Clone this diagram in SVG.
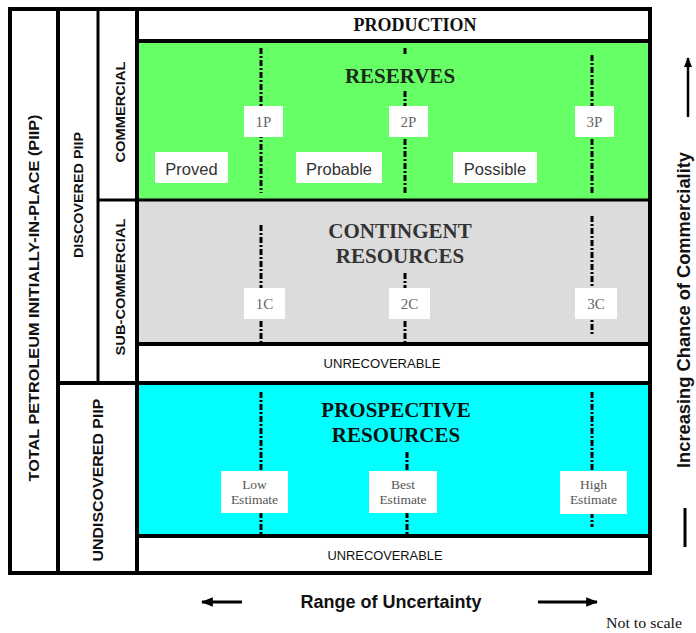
<svg xmlns="http://www.w3.org/2000/svg" width="696" height="633" viewBox="0 0 696 633">
<defs>
<style>
.frame{stroke:#000;stroke-width:4;fill:none}
.thin{stroke:#000;stroke-width:3;fill:none}
.dash{stroke:#000;stroke-width:3;stroke-dasharray:6 2 2 2;fill:none}
.lbl{fill:#fff}
.side{font-family:"Liberation Sans",Arial,sans-serif;font-weight:bold;fill:#111}
.big{font-family:"Liberation Serif","Times New Roman",serif;font-weight:bold;font-size:21px;text-anchor:middle}
.tag{font-family:"Liberation Serif","Times New Roman",serif;font-size:15px;fill:#666;text-anchor:middle}
.est{font-family:"Liberation Serif","Times New Roman",serif;font-size:13.5px;fill:#555;text-anchor:middle}
.cls{font-family:"Liberation Sans",Arial,sans-serif;font-size:16.5px;fill:#333;text-anchor:middle}
.unrec{font-family:"Liberation Sans",Arial,sans-serif;font-size:12.5px;fill:#111;text-anchor:middle}
</style>
<marker id="ah" viewBox="0 0 10 10" refX="9" refY="5" markerWidth="4" markerHeight="4" orient="auto-start-reverse" markerUnits="strokeWidth">
<path d="M0,1 L10,5 L0,9 z" fill="#000"/>
</marker>
</defs>
<rect width="696" height="633" fill="#fff"/>

<g id="production">
<text x="415" y="31" style="font-family:'Liberation Serif','Times New Roman',serif;font-weight:bold;font-size:18px" text-anchor="middle" fill="#111">PRODUCTION</text>
</g>

<g id="reserves">
<rect x="137" y="41" width="513" height="159" fill="#66ff66"/>
<text class="big" x="400" y="83" fill="#1a2a1a">RESERVES</text>
<path class="dash" d="M261,48 V193 M405,48 V56 M405,91 V193 M592,55 V193"/>
<rect class="lbl" x="244" y="106" width="39" height="31"/>
<rect class="lbl" x="389" y="106" width="39" height="31"/>
<rect class="lbl" x="575" y="106" width="39" height="31"/>
<text class="tag" x="263.5" y="127">1P</text>
<text class="tag" x="408.5" y="127">2P</text>
<text class="tag" x="594.5" y="127">3P</text>
<rect class="lbl" x="155" y="152" width="73" height="31"/>
<rect class="lbl" x="296" y="152" width="86" height="31"/>
<rect class="lbl" x="453" y="152" width="84" height="31"/>
<text class="cls" x="191.5" y="175">Proved</text>
<text class="cls" x="339" y="175">Probable</text>
<text class="cls" x="495" y="175">Possible</text>
</g>

<g id="contingent">
<rect x="137" y="200" width="513" height="144" fill="#dcdcdc"/>
<text class="big" x="400" y="238" fill="#333">CONTINGENT</text>
<text class="big" x="400" y="263" fill="#333">RESOURCES</text>
<path class="dash" d="M261,225 V343 M405,273 V343 M592,216 V335"/>
<rect class="lbl" x="244" y="288" width="41" height="31"/>
<rect class="lbl" x="389" y="288" width="41" height="31"/>
<rect class="lbl" x="575" y="288" width="42" height="31"/>
<text class="tag" x="264.5" y="309">1C</text>
<text class="tag" x="409.5" y="309">2C</text>
<text class="tag" x="596" y="309">3C</text>
</g>

<g id="unrecoverable-1">
<text class="unrec" x="382" y="368" textLength="117" lengthAdjust="spacingAndGlyphs">UNRECOVERABLE</text>
</g>

<g id="prospective">
<rect x="137" y="383" width="513" height="153" fill="#00ffff"/>
<text class="big" x="396" y="417" fill="#111">PROSPECTIVE</text>
<text class="big" x="396" y="442" fill="#111">RESOURCES</text>
<path class="dash" d="M261,392 V535 M407,452 V535 M592,392 V527"/>
<rect class="lbl" x="221" y="471" width="67" height="42"/>
<rect class="lbl" x="369" y="471" width="68" height="42"/>
<rect class="lbl" x="560" y="471" width="67" height="43"/>
<text class="est" x="254.5" y="489">Low</text>
<text class="est" x="254.5" y="504">Estimate</text>
<text class="est" x="403" y="489">Best</text>
<text class="est" x="403" y="504">Estimate</text>
<text class="est" x="593.5" y="489">High</text>
<text class="est" x="593.5" y="504">Estimate</text>
</g>

<g id="unrecoverable-2">
<text class="unrec" x="385" y="560" textLength="115" lengthAdjust="spacingAndGlyphs">UNRECOVERABLE</text>
</g>

<g id="side-labels">
<text class="side" transform="translate(39,298) rotate(-90)" text-anchor="middle" font-size="14.5" textLength="367" lengthAdjust="spacingAndGlyphs">TOTAL PETROLEUM INITIALLY-IN-PLACE (PIIP)</text>
<text class="side" transform="translate(83,195) rotate(-90)" text-anchor="middle" font-size="13.5" textLength="126" lengthAdjust="spacingAndGlyphs">DISCOVERED PIIP</text>
<text class="side" transform="translate(125,112) rotate(-90)" text-anchor="middle" font-size="13.5" textLength="101" lengthAdjust="spacingAndGlyphs">COMMERCIAL</text>
<text class="side" transform="translate(125,287) rotate(-90)" text-anchor="middle" font-size="13.5" textLength="137" lengthAdjust="spacingAndGlyphs">SUB-COMMERCIAL</text>
<text class="side" transform="translate(102.5,480) rotate(-90)" text-anchor="middle" font-size="14.5" textLength="163" lengthAdjust="spacingAndGlyphs">UNDISCOVERED PIIP</text>
</g>

<g id="connectors">
<rect class="frame" x="10" y="9" width="640" height="564"/>
<path class="frame" d="M58,9 V573 M137,9 V573 M137,41 H650 M137,344 H650 M58,383 H650 M137,536 H650"/>
<path class="thin" d="M98,9 V383 M98,200 H650"/>
<line x1="688" y1="117" x2="688" y2="58" stroke="#000" stroke-width="2.5" marker-end="url(#ah)"/>
<line x1="685" y1="508" x2="685" y2="547" stroke="#000" stroke-width="3"/>
<line x1="242" y1="602" x2="202" y2="602" stroke="#000" stroke-width="3" marker-end="url(#ah)"/>
<line x1="538" y1="602" x2="597" y2="602" stroke="#000" stroke-width="3" marker-end="url(#ah)"/>
</g>

<g id="axis-labels">
<text transform="translate(690,310) rotate(-90)" text-anchor="middle" style="font-family:'Liberation Sans',Arial,sans-serif;font-weight:bold;font-size:18px" fill="#111" textLength="316" lengthAdjust="spacingAndGlyphs">Increasing Chance of Commerciality</text>
<text x="391" y="608" text-anchor="middle" style="font-family:'Liberation Sans',Arial,sans-serif;font-weight:bold;font-size:18px" fill="#111">Range of Uncertainty</text>
<text x="644" y="628" text-anchor="middle" style="font-family:'Liberation Serif','Times New Roman',serif;font-size:15px" fill="#111" textLength="76" lengthAdjust="spacingAndGlyphs">Not to scale</text>
</g>
</svg>
